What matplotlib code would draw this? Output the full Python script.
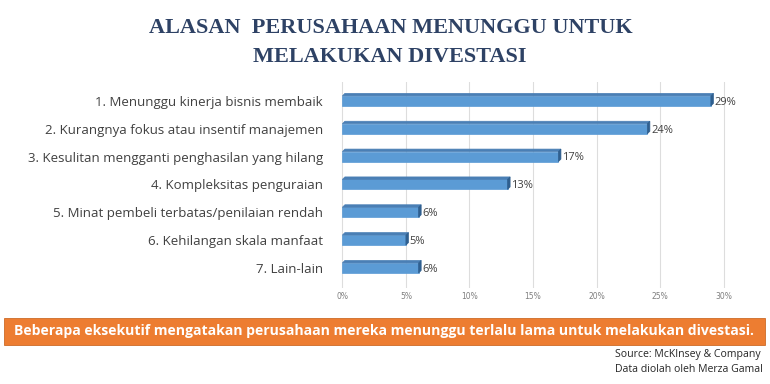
import matplotlib.pyplot as plt
from matplotlib.patches import Polygon

# data
categories = [
    '1. Menunggu kinerja bisnis membaik',
    '2. Kurangnya fokus atau insentif manajemen',
    '3. Kesulitan mengganti penghasilan yang hilang',
    '4. Kompleksitas penguraian',
    '5. Minat pembeli terbatas/penilaian rendah',
    '6. Kehilangan skala manfaat',
    '7. Lain-lain',
]
values = [29, 24, 17, 13, 6, 5, 6]
xticks = [0, 5, 10, 15, 20, 25, 30]

FRONT = '#5B9BD5'
TOP = '#4A7FB5'
SIDE = '#2F5F8F'
TXT = '#404040'

fig = plt.figure(figsize=(7.7, 3.84), dpi=100)
ax = fig.add_axes([0.443, 1 - 288 / 384, 0.5, 206 / 384])

n = len(values)
ys = list(range(n))[::-1]
h = 0.36
dx, dy = 0.2, 0.09
for y, v in zip(ys, values):
    y0 = y - h / 2
    # muka depan, atas dan samping (efek 3D)
    ax.add_patch(Polygon([(0, y0), (v, y0), (v, y0 + h), (0, y0 + h)],
                         closed=True, fc=FRONT, ec=FRONT, lw=0.5, zorder=3))
    ax.add_patch(Polygon([(0, y0 + h), (v, y0 + h), (v + dx, y0 + h + dy), (dx, y0 + h + dy)],
                         closed=True, fc=TOP, ec=TOP, lw=0.5, zorder=3))
    ax.add_patch(Polygon([(v, y0), (v + dx, y0 + dy), (v + dx, y0 + h + dy), (v, y0 + h)],
                         closed=True, fc=SIDE, ec=SIDE, lw=0.5, zorder=3))
    ax.text(v + dx + 0.1, y - 0.05, f'{v}%', ha='left', va='center',
            fontsize=8, color=TXT, family='Open Sans')

ax.set_xlim(-0.1, 30.2)
ax.set_ylim(-0.72, n - 0.32)
ax.set_yticks(ys)
ax.set_yticklabels(categories, fontsize=9.5, color=TXT, family='Open Sans')
ax.set_xticks(xticks)
ax.set_xticklabels([f'{t}%' for t in xticks], fontsize=5.5, color='#7F7F7F')
ax.tick_params(length=0, pad=3)
ax.tick_params(axis='y', pad=13)
for s in ax.spines.values():
    s.set_visible(False)
ax.grid(axis='x', color='#DDDDDD', lw=0.8, zorder=0)

# judul
fig.text(0.508, 1 - 28 / 384, 'ALASAN  PERUSAHAAN MENUNGGU UNTUK', ha='center', va='center',
         fontsize=16, color='#2E4265', family='Liberation Serif', fontweight='bold')
fig.text(0.506, 1 - 57 / 384, 'MELAKUKAN DIVESTASI', ha='center', va='center',
         fontsize=16, color='#2E4265', family='Liberation Serif', fontweight='bold')

# banner oranye
fig.patches.append(plt.Rectangle((4 / 770, 1 - 345 / 384), 761 / 770, 27 / 384,
                                 transform=fig.transFigure, fc='#ED7D31', ec='#C55A11', lw=0.5))
fig.text(383.5 / 770, 1 - 331 / 384,
         'Beberapa eksekutif mengatakan perusahaan mereka menunggu terlalu lama untuk melakukan divestasi.',
         ha='center', va='center', fontsize=10.1, fontweight='bold', color='white', family='Open Sans')

fig.text(615 / 770, 1 - 355 / 384, 'Source: McKInsey & Company', ha='left', va='center',
         fontsize=7.6, color='#262626', family='Open Sans')
fig.text(615 / 770, 1 - 370 / 384, 'Data diolah oleh Merza Gamal', ha='left', va='center',
         fontsize=7.6, color='#262626', family='Open Sans')

fig.savefig('out.png', dpi=100)
